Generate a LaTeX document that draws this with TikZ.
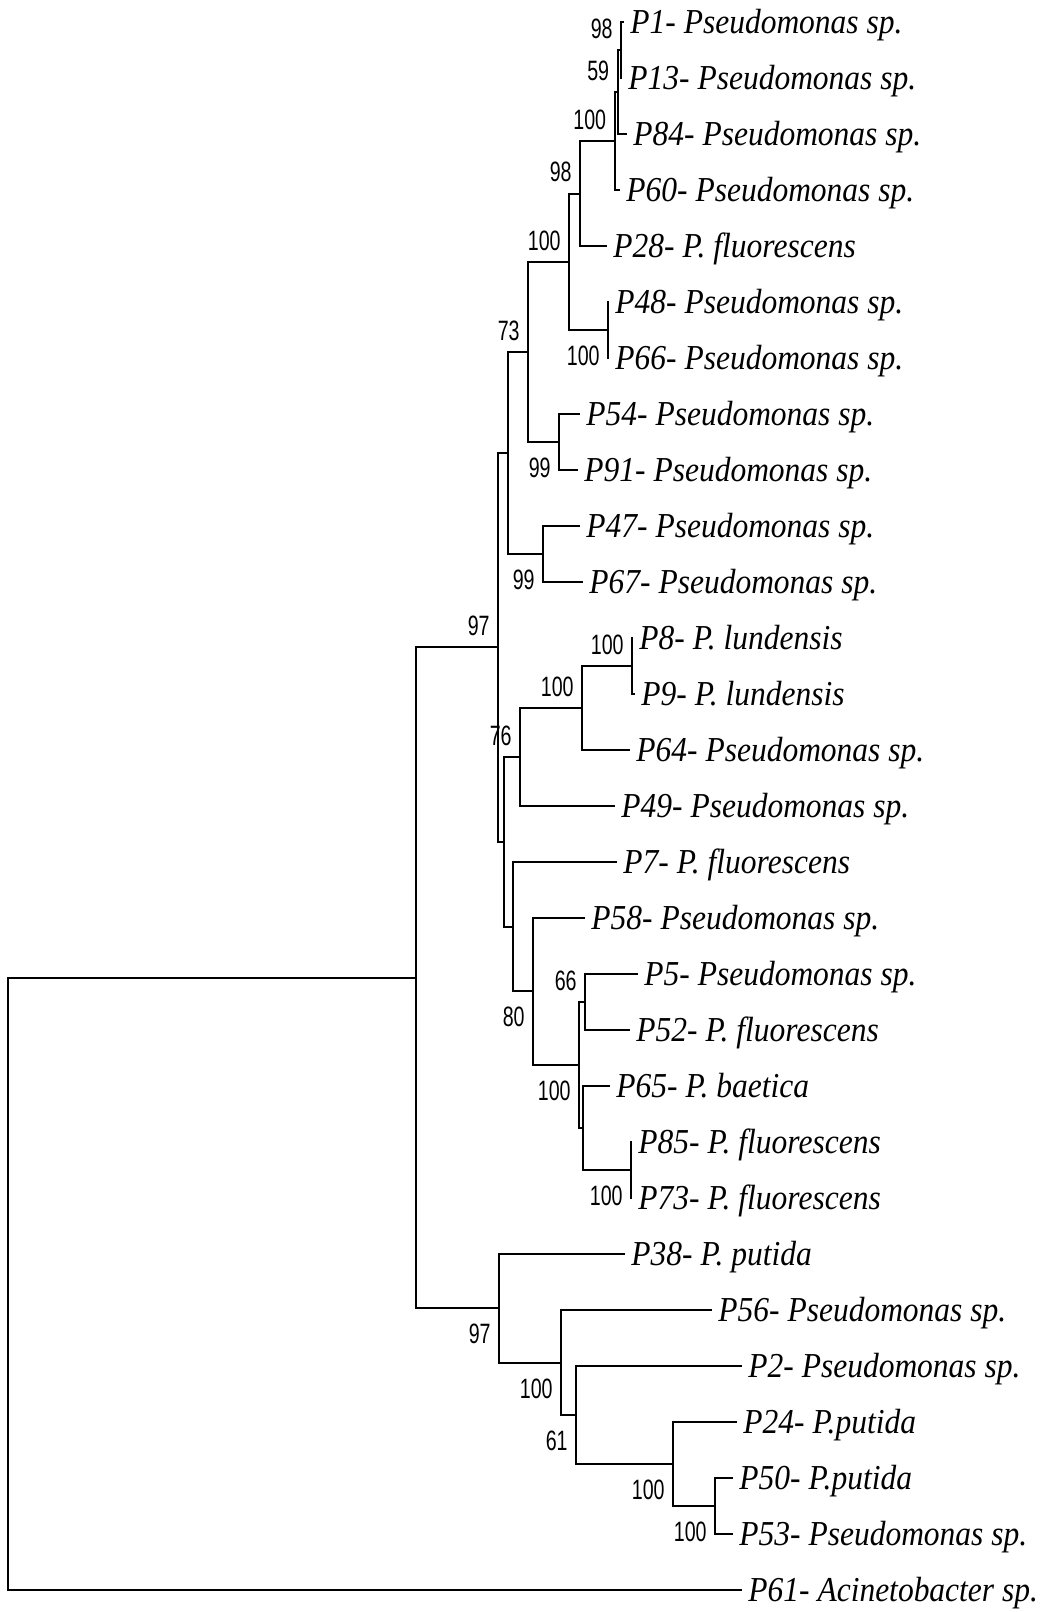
\documentclass[tikz,border=0pt]{standalone}
\usepackage{fontspec}
\newfontfamily\leaffont[FakeStretch=0.9]{Liberation Serif}
\newfontfamily\bootfont[FakeStretch=0.7]{Liberation Sans}
\usetikzlibrary{positioning}

\begin{document}
\begin{tikzpicture}[
    x=0.5pt, y=-0.5pt,
    branch/.style={line width=1pt},
    leaf/.style={anchor=west, inner xsep=3pt, inner ysep=0pt, text height=15pt, text depth=3.5pt, font=\leaffont\itshape\fontsize{17.5pt}{19pt}\selectfont},
    boot/.style={inner sep=0pt, font=\bootfont\fontsize{14pt}{16pt}\selectfont}
]
\useasboundingbox (0,0) rectangle (1039,1612);

\node[leaf] (p1) at (624,22) {P1- Pseudomonas sp.};
\node[leaf] (p13) at (622,78) {P13- Pseudomonas sp.};
\node[leaf] (p84) at (627,134) {P84- Pseudomonas sp.};
\node[leaf] (p60) at (620,190) {P60- Pseudomonas sp.};
\node[leaf] (p28) at (607,246) {P28- P. fluorescens};
\node[leaf] (p48) at (609,302) {P48- Pseudomonas sp.};
\node[leaf] (p66) at (609,358) {P66- Pseudomonas sp.};
\node[leaf] (p54) at (580,414) {P54- Pseudomonas sp.};
\node[leaf] (p91) at (578,470) {P91- Pseudomonas sp.};
\node[leaf] (p47) at (580,526) {P47- Pseudomonas sp.};
\node[leaf] (p67) at (583,582) {P67- Pseudomonas sp.};
\node[leaf] (p8) at (633,638) {P8- P. lundensis};
\node[leaf] (p9) at (635,694) {P9- P. lundensis};
\node[leaf] (p64) at (630,750) {P64- Pseudomonas sp.};
\node[leaf] (p49) at (615,806) {P49- Pseudomonas sp.};
\node[leaf] (p7) at (617,862) {P7- P. fluorescens};
\node[leaf] (p58) at (585,918) {P58- Pseudomonas sp.};
\node[leaf] (p5) at (638,974) {P5- Pseudomonas sp.};
\node[leaf] (p52) at (630,1030) {P52- P. fluorescens};
\node[leaf] (p65) at (610,1086) {P65- P. baetica};
\node[leaf] (p85) at (632,1142) {P85- P. fluorescens};
\node[leaf] (p73) at (632,1198) {P73- P. fluorescens};
\node[leaf] (p38) at (625,1254) {P38- P. putida};
\node[leaf] (p56) at (712,1310) {P56- Pseudomonas sp.};
\node[leaf] (p2) at (742,1366) {P2- Pseudomonas sp.};
\node[leaf] (p24) at (737,1422) {P24- P.putida};
\node[leaf] (p50) at (733,1478) {P50- P.putida};
\node[leaf] (p53) at (733,1534) {P53- Pseudomonas sp.};
\node[leaf] (p61) at (742,1590) {P61- Acinetobacter sp.};

\coordinate (nA) at (621,50);
\coordinate (nB) at (617.5,92);
\coordinate (nC) at (614.5,141);
\coordinate (nD) at (580,193.5);
\coordinate (nE) at (608,330);
\coordinate (nF) at (569,262);
\coordinate (nG) at (528,352);
\coordinate (nH) at (559,442);
\coordinate (nI) at (508,453);
\coordinate (nJ) at (543,554);
\coordinate (nK) at (498,647);
\coordinate (nL) at (504,841.5);
\coordinate (nM) at (520,757);
\coordinate (nN) at (582,708);
\coordinate (nO) at (632,666);
\coordinate (nP) at (513,926.5);
\coordinate (nQ) at (533,991);
\coordinate (nR) at (579,1065);
\coordinate (nS) at (585,1002);
\coordinate (nT) at (583,1128);
\coordinate (nU) at (631,1170);
\coordinate (nV) at (416,977.5);
\coordinate (nW) at (499,1308);
\coordinate (nX) at (561,1362.5);
\coordinate (nY) at (576,1415);
\coordinate (nZ) at (673,1464);
\coordinate (nAA) at (715,1506);
\coordinate (root) at (8,1284);

\draw[branch] (p1.west) -| (nA) |- (p13.west);
\draw[branch] (nA) -| (nB) |- (p84.west);
\draw[branch] (nB) -| (nC) |- (p60.west);
\draw[branch] (nC) -| (nD) |- (p28.west);
\draw[branch] (p48.west) -| (nE) |- (p66.west);
\draw[branch] (nD) -| (nF) |- (nE);
\draw[branch] (p54.west) -| (nH) |- (p91.west);
\draw[branch] (nF) -| (nG) |- (nH);
\draw[branch] (p47.west) -| (nJ) |- (p67.west);
\draw[branch] (nG) -| (nI) |- (nJ);
\draw[branch] (p8.west) -| (nO) |- (p9.west);
\draw[branch] (nO) -| (nN) |- (p64.west);
\draw[branch] (nN) -| (nM) |- (p49.west);
\draw[branch] (p5.west) -| (nS) |- (p52.west);
\draw[branch] (p85.west) -| (nU) |- (p73.west);
\draw[branch] (p65.west) -| (nT) |- (nU);
\draw[branch] (nS) -| (nR) |- (nT);
\draw[branch] (p58.west) -| (nQ) |- (nR);
\draw[branch] (p7.west) -| (nP) |- (nQ);
\draw[branch] (nM) -| (nL) |- (nP);
\draw[branch] (nI) -| (nK) |- (nL);
\draw[branch] (p50.west) -| (nAA) |- (p53.west);
\draw[branch] (p24.west) -| (nZ) |- (nAA);
\draw[branch] (p2.west) -| (nY) |- (nZ);
\draw[branch] (p56.west) -| (nX) |- (nY);
\draw[branch] (p38.west) -| (nW) |- (nX);
\draw[branch] (nK) -| (nV) |- (nW);
\draw[branch] (nV) -| (root) |- (p61.west);

\node[boot, above left=5.5pt and 4pt of nA] (bA) {98};
\node[boot, above left=5.5pt and 4pt of nB] (bB) {59};
\node[boot, above left=5.5pt and 4pt of nC] (bC) {100};
\node[boot, above left=5.5pt and 4pt of nD] (bD) {98};
\node[boot, below left=8pt and 4pt of nE] (bE) {100};
\node[boot, above left=5.5pt and 4pt of nF] (bF) {100};
\node[boot, above left=5.5pt and 4pt of nG] (bG) {73};
\node[boot, below left=8pt and 4pt of nH] (bH) {99};
\node[boot, below left=8pt and 4pt of nJ] (bJ) {99};
\node[boot, above left=5.5pt and 4pt of nK] (bK) {97};
\node[boot, above left=5.5pt and 4pt of nO] (bO) {100};
\node[boot, above left=5.5pt and 4pt of nN] (bN) {100};
\node[boot, above left=5.5pt and 4pt of nM] (bM) {76};
\node[boot, above left=5.5pt and 4pt of nS] (bS) {66};
\node[boot, below left=8pt and 4pt of nU] (bU) {100};
\node[boot, below left=8pt and 4pt of nR] (bR) {100};
\node[boot, below left=8pt and 4pt of nQ] (bQ) {80};
\node[boot, below left=8pt and 4pt of nW] (bW) {97};
\node[boot, below left=8pt and 4pt of nX] (bX) {100};
\node[boot, below left=8pt and 4pt of nY] (bY) {61};
\node[boot, below left=8pt and 4pt of nZ] (bZ) {100};
\node[boot, below left=8pt and 4pt of nAA] (bAA) {100};
\end{tikzpicture}
\end{document}
